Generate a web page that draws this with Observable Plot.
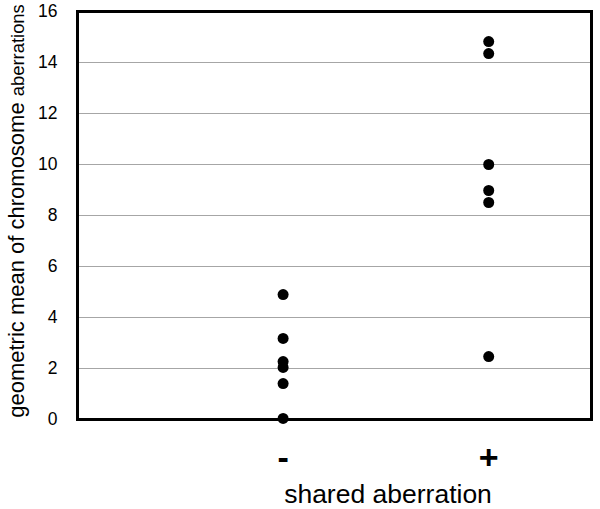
<!DOCTYPE html>
<html>
<head>
<meta charset="utf-8">
<script src="https://cdn.jsdelivr.net/npm/d3@7"></script>
<script src="https://cdn.jsdelivr.net/npm/@observablehq/plot@0.6"></script>
<style>
  html, body { margin: 0; padding: 0; background: #fff; }
  svg { display: block; }
</style>
</head>
<body>
<div id="chart"></div>
<script>
const groups = ["-", "+"];
const groupPos = [1, 2];
const minusValues = [4.90, 3.18, 2.27, 2.04, 1.41, 0.04];
const plusValues = [14.82, 14.35, 10.0, 8.98, 8.51, 2.47];
const yTicks = [0, 2, 4, 6, 8, 10, 12, 14, 16];
const gridLines = [2, 4, 6, 8, 10, 12, 14];

const data = [
  ...minusValues.map(v => ({x: groupPos[0], y: v})),
  ...plusValues.map(v => ({x: groupPos[1], y: v}))
];

const plot = Plot.plot({
  width: 600,
  height: 509,
  marginLeft: 77,
  marginTop: 11,
  marginRight: 9,
  marginBottom: 90,
  style: {fontFamily: "Liberation Sans, Arial, sans-serif", background: "#fff"},
  x: {domain: [0, 2.5]},
  y: {domain: [0, 16]},
  marks: [
    Plot.ruleY(gridLines, {stroke: "#a6a6a6", strokeWidth: 1}),
    Plot.axisY(yTicks, {tickSize: 0, tickPadding: 20, fontSize: 17.5, label: null, fill: "#000"}),
    Plot.axisX(groupPos, {tickSize: 0, tickPadding: 25, fontSize: 34, fontWeight: "bold", label: null,
      tickFormat: (d) => groups[groupPos.indexOf(d)]}),
    Plot.dot(data, {x: "x", y: "y", r: 5.5, fill: "#000", stroke: null}),
    Plot.frame({stroke: "#000", strokeWidth: 3})
  ]
});

const svg = d3.select(plot);
// y axis title with mixed sizes
const yt = svg.append("text")
  .attr("transform", "translate(24, 211) rotate(-90)")
  .attr("text-anchor", "middle")
  .attr("font-family", "Liberation Sans, Arial, sans-serif")
  .attr("fill", "#000");
yt.append("tspan").attr("font-size", 22).text("geometric mean of chromosome ");
yt.append("tspan").attr("font-size", 18.4).text("aberrations");
// x axis title
svg.append("text")
  .attr("x", 388)
  .attr("y", 503)
  .attr("text-anchor", "middle")
  .attr("font-family", "Liberation Sans, Arial, sans-serif")
  .attr("font-size", 26.5)
  .attr("fill", "#000")
  .text("shared aberration");

document.getElementById("chart").appendChild(plot);
</script>
</body>
</html>
